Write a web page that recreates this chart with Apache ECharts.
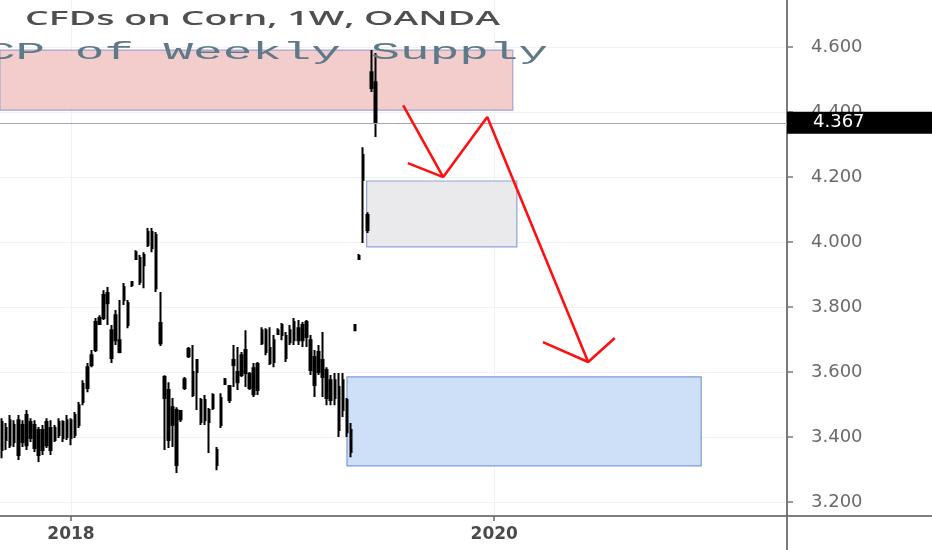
<!DOCTYPE html>
<html><head><meta charset="utf-8">
<script src="https://cdn.jsdelivr.net/npm/echarts@6/dist/echarts.min.js"></script>
<style>html,body{margin:0;padding:0;background:#fff}#c{width:932px;height:550px}</style>
</head><body><div id="c"></div>
<script>
// ---------- data ----------
const firstWeek = '2017-09-04';
const opens  = [3.446,3.391,3.452,3.385,3.452,3.385,3.468,3.397,3.437,3.422,3.360,3.446,3.360,3.428,3.406,3.446,3.400,3.452,3.406,3.437,
                3.508,3.551,3.622,3.668,3.748,3.766,3.843,3.729,3.698,3.698,3.822,3.812,3.868,3.948,3.877,3.960,3.991,4.031,4.022,3.751,
                3.585,3.545,3.492,3.483,3.480,3.551,3.649,3.529,3.637,3.514,3.452,3.483,3.489,3.360,3.437,3.563,3.557,3.622,3.569,3.591,
                3.668,3.594,3.532,3.625,3.689,3.729,3.674,3.631,3.717,3.745,3.643,3.692,3.754,3.698,3.745,3.754,3.698,3.646,3.600,3.637,
                3.606,3.514,3.575,3.554,3.483,3.514,3.422,3.729,3.948,4.268,4.083,4.523,4.492];
const closes = [3.360,3.428,3.375,3.437,3.345,3.437,3.375,3.446,3.366,3.345,3.422,3.375,3.428,3.391,3.446,3.397,3.452,3.397,3.468,3.498,
                3.563,3.615,3.652,3.754,3.766,3.837,3.812,3.643,3.775,3.662,3.862,3.745,3.877,3.969,3.951,3.929,4.031,3.982,3.858,3.689,
                3.520,3.391,3.437,3.314,3.455,3.578,3.671,3.600,3.600,3.446,3.514,3.446,3.529,3.314,3.520,3.578,3.514,3.637,3.600,3.652,
                3.597,3.551,3.612,3.545,3.729,3.662,3.628,3.698,3.729,3.714,3.711,3.729,3.698,3.735,3.698,3.708,3.606,3.560,3.662,3.585,
                3.520,3.575,3.520,3.422,3.575,3.415,3.354,3.745,3.957,4.191,4.037,4.474,4.367];
const lows   = [3.335,3.360,3.366,3.369,3.329,3.369,3.360,3.385,3.354,3.323,3.345,3.366,3.345,3.385,3.397,3.385,3.391,3.375,3.397,3.428,
                3.498,3.538,3.615,3.662,3.745,3.760,3.745,3.628,3.683,3.658,3.806,3.735,3.862,3.945,3.868,3.858,3.985,3.969,3.846,3.680,
                3.360,3.366,3.369,3.289,3.446,3.545,3.643,3.523,3.483,3.437,3.437,3.351,3.483,3.298,3.428,3.560,3.505,3.554,3.545,3.585,
                3.554,3.545,3.523,3.529,3.683,3.652,3.622,3.615,3.714,3.698,3.631,3.683,3.683,3.683,3.677,3.677,3.591,3.523,3.591,3.523,
                3.498,3.498,3.498,3.400,3.462,3.400,3.338,3.726,3.945,3.997,4.028,4.462,4.323];
const highs  = [3.458,3.443,3.468,3.452,3.468,3.452,3.483,3.458,3.452,3.431,3.437,3.458,3.452,3.437,3.458,3.452,3.468,3.458,3.477,3.508,
                3.575,3.628,3.668,3.766,3.775,3.852,3.862,3.745,3.791,3.822,3.874,3.822,3.880,3.975,3.960,3.969,4.043,4.043,4.031,3.846,
                3.590,3.569,3.520,3.492,3.483,3.585,3.677,3.683,3.640,3.520,3.529,3.489,3.535,3.369,3.535,3.582,3.560,3.683,3.677,3.662,
                3.729,3.600,3.628,3.631,3.738,3.735,3.738,3.714,3.735,3.751,3.723,3.745,3.766,3.760,3.754,3.760,3.714,3.668,3.683,3.723,
                3.615,3.591,3.597,3.597,3.597,3.520,3.443,3.748,3.963,4.292,4.092,4.591,4.582];

const priceTicks = [3.2, 3.4, 3.6, 3.8, 4.0, 4.2, 4.4, 4.6];
const yearTicks  = ['2018-01-01', '2020-01-01'];
const viewStart  = '2017-08-31T12:00:00Z';
const viewEnd    = '2021-05-20T00:00:00Z';
const priceMin   = 3.157;
const priceMax   = 4.745;

const titleText = 'CFDs on Corn, 1W, OANDA';
const noteText  = 'CP of Weekly Supply';

// zones: supply (pink), pullback (grey), target (blue)
const zoneStart  = ['2017-08-31T12:00:00Z', '2019-05-26', '2019-04-22'];
const zoneEnd    = ['2020-02-02', '2020-02-09', '2020-12-23'];
const zoneTop    = [4.591, 4.188, 3.585];
const zoneBottom = [4.406, 3.985, 3.311];

// projected path arrows
const pathDates  = ['2019-07-28', '2019-10-05', '2019-12-20', '2020-06-11'];
const pathPrices = [4.421, 4.200, 4.385, 3.631];
const head1Dates  = ['2019-08-05', '2019-10-05'];
const head1Prices = [4.243, 4.200];
const head2Dates  = ['2020-03-25', '2020-06-11', '2020-07-27'];
const head2Prices = [3.692, 3.631, 3.705];

// ---------- build ----------
const ts = s => Date.parse(s.length === 10 ? s + 'T00:00:00Z' : s);
const DAY = 86400000;
const w0 = ts(firstWeek);
const candles = opens.map((o, i) => [w0 + i * 7 * DAY, o, closes[i], lows[i], highs[i]]);
const lastClose = closes[closes.length - 1];
const pairs = (d, p) => d.map((x, i) => [ts(x), p[i]]);

const zoneStyles = [
  {color: 'rgba(242,198,198,0.9)', borderColor: '#a3a3d6', borderWidth: 1.2},
  {color: 'rgba(234,234,237,1)',   borderColor: '#8fa3d6', borderWidth: 1.2},
  {color: 'rgba(206,223,248,1)',   borderColor: '#7f9bd8', borderWidth: 1.2}
];
const zones = zoneStart.map((s, i) => [
  {xAxis: ts(s), yAxis: zoneTop[i], itemStyle: zoneStyles[i]},
  {xAxis: ts(zoneEnd[i]), yAxis: zoneBottom[i]}
]);

function textWidth(text, font) {
  const c = document.createElement('canvas').getContext('2d');
  c.font = font;
  return c.measureText(text).width;
}
const titleFont = '600 19px "Open Sans"';
const noteFont  = '24px "Liberation Mono"';
const titleScale = 475 / textWidth(titleText, titleFont);
const noteScale  = 562 / textWidth(noteText, noteFont);

const chart = echarts.init(document.getElementById('c'), null, {renderer: 'canvas'});
const red = '#ff1010';
const redLine = {color: red, width: 2.6};

chart.setOption({
  animation: false,
  backgroundColor: '#ffffff',
  grid: {left: 0, right: 145, top: 0, bottom: 34},
  xAxis: {
    type: 'value', min: ts(viewStart), max: ts(viewEnd),
    axisLine: {lineStyle: {color: '#555', width: 1.5}},
    axisTick: {show: true, length: 5, lineStyle: {color: '#666', width: 1.5}, customValues: yearTicks.map(ts)},
    axisLabel: {customValues: yearTicks.map(ts), formatter: v => String(new Date(v).getUTCFullYear()),
                color: '#4a4a4a', fontSize: 17, fontWeight: 'bold', fontFamily: 'DejaVu Sans', margin: 10},
    splitLine: {show: true, lineStyle: {color: '#f1f1f4', width: 1}}
  },
  yAxis: {
    type: 'value', position: 'right', min: priceMin, max: priceMax,
    axisLine: {show: true, lineStyle: {color: '#7a7a7a', width: 2}},
    axisTick: {show: true, length: 6, lineStyle: {color: '#7a7a7a', width: 1.5}, customValues: priceTicks},
    axisLabel: {customValues: priceTicks, formatter: v => v.toFixed(3), color: '#6a6a6a',
                fontSize: 18, fontFamily: 'DejaVu Sans', margin: 24},
    splitLine: {show: true, lineStyle: {color: '#f1f1f4', width: 1}}
  },
  series: [
    {
      type: 'candlestick', data: candles, encode: {x: 0, y: [1, 2, 3, 4]},
      barWidth: 2, z: 3,
      itemStyle: {color: '#000000', color0: '#000000', borderColor: '#000000', borderColor0: '#000000', borderWidth: 2},
      markArea: {silent: true, z: 1, data: zones},
      markLine: {
        silent: true, symbol: ['none', 'none'], precision: 3,
        lineStyle: {color: '#a4a4b8', width: 1, type: 'solid'},
        label: {show: true, position: 'end', distance: 0, formatter: p => p.value.toFixed(3),
                backgroundColor: '#000000', color: '#ffffff', fontSize: 18, fontFamily: 'DejaVu Sans',
                padding: [2, 10, 2, 26], width: 109, align: 'left'},
        data: [{yAxis: lastClose}]
      }
    },
    {type: 'line', data: pairs(pathDates, pathPrices), symbol: 'none', lineStyle: redLine, z: 5},
    {type: 'line', data: pairs(head1Dates, head1Prices), symbol: 'none', lineStyle: redLine, z: 5},
    {type: 'line', data: pairs(head2Dates, head2Prices), symbol: 'none', lineStyle: redLine, z: 5}
  ],
  graphic: [
    {type: 'line', z: 10, shape: {x1: 787, y1: 516, x2: 932, y2: 516}, style: {stroke: '#555', lineWidth: 1.5}},
    {type: 'line', z: 10, shape: {x1: 787, y1: 516, x2: 787, y2: 550}, style: {stroke: '#7a7a7a', lineWidth: 2}},
    {type: 'text', z: 20, x: 25, y: 20, scaleX: titleScale,
     style: {text: titleText, font: titleFont, fill: '#4f4f4f', verticalAlign: 'middle', align: 'left'}},
    {type: 'text', z: 20, x: -14, y: 53, scaleX: noteScale,
     style: {text: noteText, font: noteFont, fill: '#5e7a88', verticalAlign: 'middle', align: 'left'}}
  ]
});
</script>
</body></html>
